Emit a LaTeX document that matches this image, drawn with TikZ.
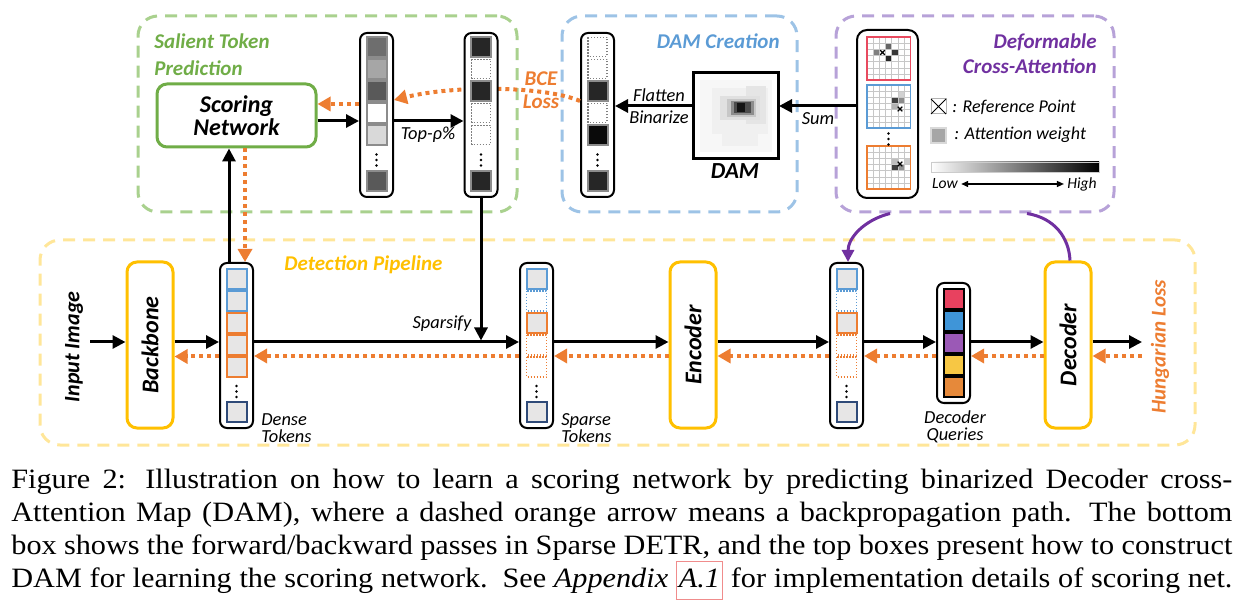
\documentclass[tikz,border=0pt]{standalone}
\usepackage{fontspec}
\setmainfont{Liberation Serif}
\newfontfamily\calfont{Carlito}
\newfontfamily\capfont[FakeStretch=1.08]{Liberation Serif}
\usetikzlibrary{arrows.meta,calc}
\definecolor{lgreen}{HTML}{A9D18E}
\definecolor{sgreen}{HTML}{70AD47}
\definecolor{lblue}{HTML}{9DC3E6}
\definecolor{sblue}{HTML}{5B9BD5}
\definecolor{lpurp}{HTML}{B7A2D8}
\definecolor{dpurp}{HTML}{7030A0}
\definecolor{lyell}{HTML}{FFE699}
\definecolor{syell}{HTML}{FFC000}
\definecolor{orng}{HTML}{ED7D31}
\definecolor{navy}{HTML}{2F4A78}
\definecolor{glight}{HTML}{E7E6E6}
\definecolor{qred}{HTML}{E8415F}
\definecolor{qblue}{HTML}{3F95D8}
\definecolor{qpurp}{HTML}{9B59B6}
\definecolor{qyell}{HTML}{F7C744}
\definecolor{qorng}{HTML}{E6893A}
\definecolor{gridr}{HTML}{E84A5F}
\definecolor{capred}{HTML}{F08C8C}
\newcommand\myfs[2]{\fontsize{#1}{#2}\selectfont}
\newcommand\capsetup{\capfont\myfs{14}{16.2}\spaceskip=0.25em plus 1em minus 0.17em\xspaceskip=0.5em plus 1em minus 0.15em}
\newcommand\dgrid[3]{%
  \fill[white] (867,#1) rectangle ++(43.4,43.4);
  \foreach \cc/\rr/\gg in {#3} \fill[black!\gg] ({867+\cc*6.2},{#1+\rr*6.2}) rectangle ++(6.2,6.2);
  \foreach \ii in {1,...,6} {\draw[black!22,line width=0.35pt] ({867+\ii*6.2},#1) -- ++(0,43.4);
    \draw[black!22,line width=0.35pt] (867,{#1+\ii*6.2}) -- ++(43.4,0);}
  \draw[#2,line width=0.9pt] (867,#1) rectangle ++(43.4,43.4);}
\newcommand\xmk[2]{\draw[line width=0.6pt] ({#1-2.3},{#2-2.3}) -- ({#1+2.3},{#2+2.3}) ({#1-2.3},{#2+2.3}) -- ({#1+2.3},{#2-2.3});}
\begin{document}
\begin{tikzpicture}[x=0.5pt,y=-0.5pt,
  fwd/.style={line width=1.5pt,-{Triangle[length=6.5pt,width=6.5pt]}},
  bwd/.style={draw=orng,line width=2pt,dash pattern=on 2pt off 2pt,-{Triangle[length=6.5pt,width=7pt]}},
  purp/.style={draw=dpurp,line width=1.5pt},
  grp/.style={draw=#1,rounded corners=10pt,line width=1.5pt,dash pattern=on 6pt off 4pt,inner sep=0},
  col/.style={draw=black,line width=1pt,rounded corners=3.5pt,fill=white,inner sep=0,minimum width=16.5pt},
  blk/.style={draw=#1,line width=1.5pt,rounded corners=5pt,fill=white,inner sep=0},
  cellg/.style={draw=black!45,line width=1pt,fill=#1},
  celld/.style={draw=black!50,line width=0.7pt,dash pattern=on 0.7pt off 0.8pt,fill=white},
  cb/.style={draw=sblue,line width=1pt,fill=glight},
  co/.style={draw=orng,line width=1pt,fill=glight},
  cn/.style={draw=navy,line width=1pt,fill=glight},
  cbd/.style={draw=sblue,line width=0.7pt,dash pattern=on 0.7pt off 0.8pt,fill=white},
  cod/.style={draw=orng,line width=0.7pt,dash pattern=on 0.7pt off 0.8pt,fill=white},
  cq/.style={draw=black,line width=1pt,fill=#1},
  hd/.style={font=\calfont\bfseries\itshape\myfs{10.5}{13.5},inner sep=0},
  bg/.style={font=\calfont\bfseries\itshape\myfs{12}{10.5},inner sep=0},
  itl/.style={font=\calfont\itshape\myfs{9.2}{8.8},inner sep=0},
  captxt/.style={font=\capsetup,inner sep=0,anchor=base west}
]
\useasboundingbox (0,0) rectangle (1252,614);
% group boxes
\node[grp=lgreen,minimum width=189.5pt,minimum height=98pt] (gSal) at (327.5,114) {};
\node[grp=lblue,minimum width=117.5pt,minimum height=98pt] (gDam) at (679.5,114) {};
\node[grp=lpurp,minimum width=139pt,minimum height=98pt] (gDef) at (975,114) {};
\node[grp=lyell,minimum width=577.5pt,minimum height=102.5pt] (gDet) at (617.5,342.5) {};
% group titles
\node[hd,text=sgreen,anchor=west,align=left] (tSal) at (154,55) {Salient Token\\Prediction};
\node[hd,text=sblue,anchor=east] (tDam) at (780,41) {DAM Creation};
\node[hd,text=dpurp,anchor=east,align=right,font=\calfont\bfseries\itshape\myfs{10.5}{12.5}] (tDef) at (1097,54) {Deformable\\Cross-Attention};
\node[hd,text=syell,anchor=west] (tDet) at (284,265) {Detection Pipeline};
% top nodes
\node[blk=sgreen,minimum width=79.5pt,minimum height=31.5pt,align=center,font=\calfont\bfseries\itshape\myfs{12}{10}] (score) at (236.5,115.5) {Scoring\\Network};
\node[col,minimum height=82pt] (cDam) at (597.5,115) {};
\node[col,minimum height=82pt] (cScore) at (376.5,115) {};
% BCE loss curve (behind top-rho column)
\draw[bwd] ([yshift=7pt]cDam.west) .. controls (545,86) and (455,85) .. ([yshift=7.5pt]cScore.east);
\node[col,minimum height=82pt] (cTop) at (481,115) {};
\node[draw,line width=1pt,fill=white,minimum width=42pt,minimum height=42.5pt,inner sep=0] (dam) at (736,115.5) {};
\node[col,minimum width=30.5pt,minimum height=84pt,rounded corners=5pt] (defc) at (887.5,114) {};
\node[hd,text=orng,align=center,font=\calfont\bfseries\itshape\myfs{10.5}{11.5}] (tBce) at (541,90) {BCE\\Loss};
% cells of top columns
\foreach \yy/\gg in {37/57,59/35,81/65,103/0,125/15,171/65} \draw[cellg=black!\gg] (366.5,\yy) rectangle ++(20,20);
\foreach \yy in {37,81,171} \draw[cellg=black!85] (471,\yy) rectangle ++(20,20);
\foreach \yy in {59,103,125} \draw[celld] (471.5,\yy+0.5) rectangle ++(19,19);
\foreach \yy in {37,59,103} \draw[celld] (588,\yy+0.5) rectangle ++(19,19);
\draw[cellg=black!85] (587.5,81) rectangle ++(20,20);
\draw[cellg=black!96] (587.5,125) rectangle ++(20,20);
\draw[cellg=black!85] (587.5,171) rectangle ++(20,20);
\foreach \xx in {376.5,481,597.5} \foreach \yy in {154.5,160,165.5} \fill (\xx,\yy) circle (0.65pt);
% DAM picture
\fill[black!3] (700,80) rectangle (772,152);
\fill[black!6] (712,88) rectangle (768,134);
\fill[black!6] (722,134) rectangle (758,146);
\fill[black!10] (746,86) rectangle (766,124);
\fill[black!12] (720,96) rectangle (760,120);
\fill[black!22] (727,99) rectangle (756,117);
\fill[black!45] (731,101) rectangle (754,115);
\fill[black!70] (734,102) rectangle (751,113);
\fill[black!92] (737,103) rectangle (745,112);
\draw[line width=1pt] (dam.north west) rectangle (dam.south east);
% deformable grids
\dgrid{37}{gridr}{3/1/60,1/2/50,4/2/78,3/3/85}
\xmk{882.5}{52.5}
\dgrid{85}{sblue}{5/1/18,4/2/75,5/2/45,4/3/30}
\xmk{900}{109}
\dgrid{146}{orng}{4/2/25,6/2/20,4/3/75,5/3/42}
\xmk{900}{164}
\foreach \yy in {133.5,139,144.5} \fill (888.5,\yy) circle (0.65pt);
% legend
\draw[black!30,fill=white,line width=0.5pt] (931,99) rectangle (946,114);
\draw[line width=0.5pt] (931,99) -- (946,114) (931,114) -- (946,99);
\draw[black!15,fill=black!35,line width=0.8pt] (931,128) rectangle (946,143);
\node[itl,anchor=west,font=\calfont\itshape\myfs{9}{9}] (tRef) at (952,107) {: Reference Point};
\node[itl,anchor=west,font=\calfont\itshape\myfs{9}{9}] (tAtt) at (954,135) {: Attention weight};
\shade[left color=white,right color=black] (931,162) rectangle (1099,172);
\draw[black!20,line width=0.4pt] (931,162) rectangle (1099,172);
\node[itl,font=\calfont\itshape\myfs{7.8}{8}] (tLow) at (945,184) {Low};
\node[itl,font=\calfont\itshape\myfs{7.8}{8}] (tHigh) at (1082,184) {High};
\draw[line width=0.7pt,{Triangle[length=3.5pt,width=3pt]}-{Triangle[length=3.5pt,width=3pt]}] ([xshift=1.5pt]tLow.east) -- ([xshift=-1.5pt]tHigh.west);
% top arrows
\draw[fwd] ([yshift=-2.75pt]score.east) -- ([yshift=-2.75pt]score.east -| cScore.west);
\draw[fwd] ([yshift=-3pt]cScore.east) -- ([yshift=-3pt]cScore.east -| cTop.west);
\draw[bwd] ([yshift=5.5pt]cScore.west) -- ([yshift=5.5pt]cScore.west -| score.east);
\node[itl] (tTop) at (428,135) {Top-ρ\%};
\draw[fwd] ([yshift=4.75pt]dam.west) -- ([yshift=4.75pt]dam.west -| cDam.east);
\node[itl] (tFlat) at (659,95) {Flatten};
\node[itl] (tBin) at (659,117) {Binarize};
\draw[fwd] ([yshift=4pt]defc.west) -- ([yshift=4pt]defc.west -| dam.east);
\node[itl] (tSum) at (818,119) {Sum};
\node[bg,font=\calfont\bfseries\itshape\myfs{11.5}{12}] (tDAM) at (735,171) {DAM};
% bottom nodes
\node[blk=syell,minimum width=23pt,minimum height=83pt] (backbone) at (150,345) {};
\node[bg,rotate=90] (tBack) at (backbone) {Backbone};
\node[col,minimum height=82.5pt] (dense) at (236.5,345.5) {};
\node[col,minimum height=82.5pt] (sparse) at (536.5,345.5) {};
\node[blk=syell,minimum width=23pt,minimum height=83pt] (encoder) at (693,345) {};
\node[bg,rotate=90] (tEnc) at (encoder) {Encoder};
\node[col,minimum height=82.5pt] (enc2) at (846.5,345.5) {};
\node[col,minimum height=60pt] (queries) at (953.5,343) {};
\node[blk=syell,minimum width=23pt,minimum height=83pt] (decoder) at (1068,345) {};
\node[bg,rotate=90] (tDec) at (decoder) {Decoder};
\node[bg,rotate=90,font=\calfont\bfseries\itshape\myfs{11}{12}] (tIn) at (74,347) {Input Image};
\node[bg,rotate=90,text=orng,font=\calfont\bfseries\itshape\myfs{10.5}{12}] (tHung) at (1160,347) {Hungarian Loss};
\coordinate (inA) at (90,342);
\coordinate (hlA) at (1142,342);
\coordinate (hlB) at (1142,356);
% bottom cells
\foreach \yy/\st in {269/cb,291/cb,313/co,335/co,357/co,402/cn} \draw[\st] (226.5,\yy) rectangle ++(20,20);
\foreach \xx in {526.5,836.5} \foreach \yy/\st in {269/cb,291/cbd,313/co,335/cod,357/cod,402/cn} \draw[\st] (\xx,\yy) rectangle ++(20,20);
\foreach \xx in {236.5,536.5,846.5} \foreach \yy in {386,391.5,397} \fill (\xx,\yy) circle (0.65pt);
\foreach \yy/\cl in {289/qred,311/qblue,333/qpurp,355/qyell,377/qorng} \draw[cq=\cl] (943.5,\yy) rectangle ++(20,20);
\node[itl,anchor=west,align=left] (tDense) at (261,428) {Dense\\Tokens};
\node[itl,anchor=west,align=left] (tSparse) at (561,428) {Sparse\\Tokens};
\node[itl,align=center] (tQ) at (955,427) {Decoder\\Queries};
% bottom arrows
\draw[fwd] (inA) -- (inA -| backbone.west);
\draw[fwd] ([yshift=1.5pt]backbone.east) -- ([yshift=1.5pt]backbone.east -| dense.west);
\draw[bwd] ([yshift=-5.5pt]dense.west) -- ([yshift=-5.5pt]dense.west -| backbone.east);
\draw[fwd] ([yshift=1.75pt]dense.east) -- ([yshift=1.75pt]dense.east -| sparse.west);
\draw[bwd] ([yshift=-5.25pt]sparse.west) -- ([yshift=-5.25pt]sparse.west -| dense.east);
\draw[fwd] ([yshift=1.75pt]sparse.east) -- ([yshift=1.75pt]sparse.east -| encoder.west);
\draw[bwd] ([yshift=-5.5pt]encoder.west) -- ([yshift=-5.5pt]encoder.west -| sparse.east);
\draw[fwd] ([yshift=1.5pt]encoder.east) -- ([yshift=1.5pt]encoder.east -| enc2.west);
\draw[bwd] ([yshift=-5.25pt]enc2.west) -- ([yshift=-5.25pt]enc2.west -| encoder.east);
\draw[fwd] ([yshift=1.75pt]enc2.east) -- ([yshift=1.75pt]enc2.east -| queries.west);
\draw[bwd] ([yshift=-6.5pt]queries.west) -- ([yshift=-6.5pt]queries.west -| enc2.east);
\draw[fwd] ([yshift=0.5pt]queries.east) -- ([yshift=0.5pt]queries.east -| decoder.west);
\draw[bwd] ([yshift=-5.5pt]decoder.west) -- ([yshift=-5.5pt]decoder.west -| queries.east);
\draw[fwd] ([yshift=1.5pt]decoder.east) -- (hlA);
\draw[bwd] (hlB) -- (hlB -| decoder.east);
% links between top and bottom
\draw[fwd] (cTop.south) -- ([yshift=2.5pt]cTop.south |- sparse.west);
\node[itl] (tSpar) at (442,324) {Sparsify};
\draw[fwd] ([xshift=-3.75pt]dense.north) -- ([xshift=-3.75pt]dense.north |- score.south);
\draw[bwd] ([xshift=4.25pt]dense.north |- score.south) -- ([xshift=4.25pt]dense.north);
\draw[purp,-{Triangle[length=6pt,width=6pt]}] ([xshift=-42.5pt]gDef.south) .. controls (864,220) and (848,238) .. ([xshift=0.75pt]enc2.north);
\draw[purp] ([xshift=1pt]decoder.north) .. controls (1069,238) and (1055,218) .. ([xshift=26pt]gDef.south);
% caption
\setlength{\fboxsep}{1pt}\setlength{\fboxrule}{0.5pt}
\node[captxt] (cap1) at (11,488) {\makebox[610.5pt][s]{Figure 2: Illustration on how to learn a scoring network by predicting binarized Decoder cross-}};
\node[captxt] (cap2) at (11,521) {\makebox[610.5pt][s]{Attention Map (DAM), where a dashed orange arrow means a backpropagation path. The bottom}};
\node[captxt] (cap3) at (11,554) {\makebox[610.5pt][s]{box shows the forward/backward passes in Sparse DETR, and the top boxes present how to construct}};
\node[captxt] (cap4) at (11,587) {\makebox[610.5pt][s]{DAM for learning the scoring network. See \textit{Appendix} \fcolorbox{capred}{white}{\strut\textit{A.1}} for implementation details of scoring net.}};
\end{tikzpicture}
\end{document}
